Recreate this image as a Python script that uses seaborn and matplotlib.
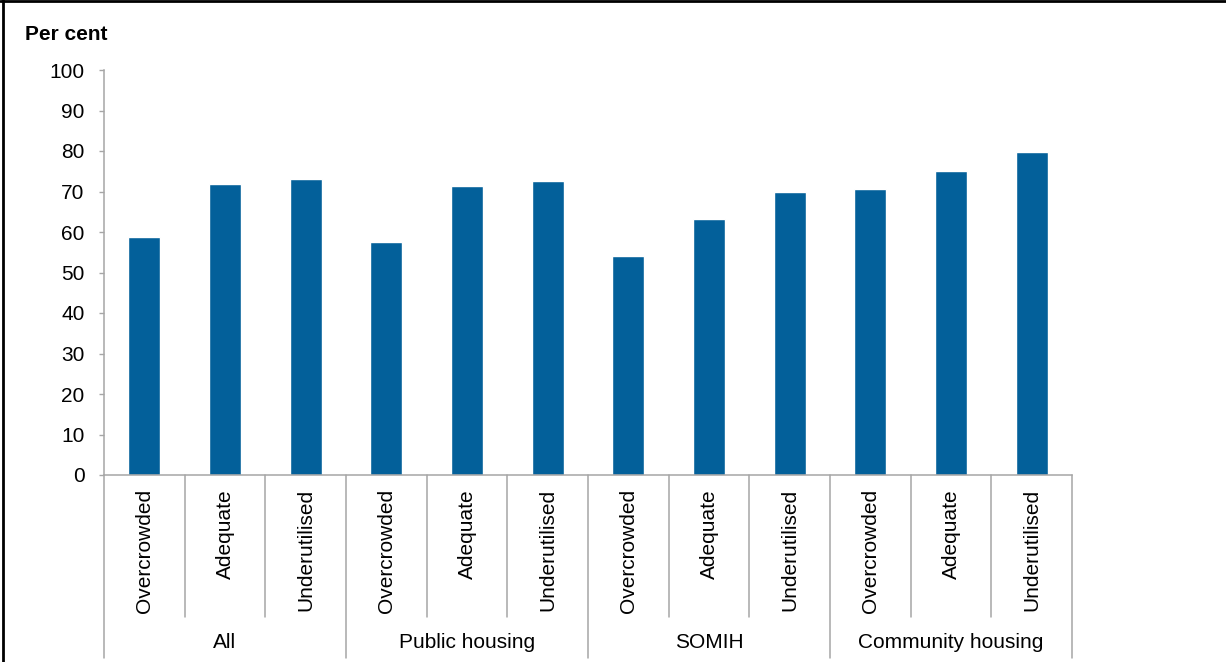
import matplotlib
matplotlib.use("Agg")
import matplotlib.pyplot as plt
import seaborn as sns
import pandas as pd
from matplotlib.lines import Line2D
from matplotlib.transforms import blended_transform_factory

# Share of households (per cent) by dwelling utilisation and housing program
groups = ["All", "Public housing", "SOMIH", "Community housing"]
categories = ["Overcrowded", "Adequate", "Underutilised"]
all_values = [58.8, 71.8, 73.2]
public_values = [57.6, 71.4, 72.6]
somih_values = [54.1, 63.3, 69.9]
community_values = [70.7, 75.1, 79.8]
y_ticks = list(range(0, 101, 10))
y_label = "Per cent"

series = [all_values, public_values, somih_values, community_values]
rows = []
for g, vals in zip(groups, series):
    for c, v in zip(categories, vals):
        rows.append({"key": f"{g}|{c}", "group": g, "category": c, "value": v})
df = pd.DataFrame(rows)
order = list(df["key"])

sns.set_theme(style="white")
plt.rcParams["font.family"] = ["Liberation Sans", "DejaVu Sans"]

W, H = 1226, 662
fig = plt.figure(figsize=(W / 100, H / 100), dpi=100)
fig.patch.set_facecolor("white")


def fy(py):
    return 1 - py / H


ax = fig.add_axes([104 / W, fy(475), (1072 - 104) / W, (475 - 70) / H])
bar_color = "#03609A"
sns.barplot(data=df, x="key", y="value", order=order, color=bar_color,
            saturation=1, width=0.4, ax=ax)

axis_gray = "#A6A6A6"
ax.set_xlim(-0.5, len(order) - 0.5)
ax.set_ylim(0, 100)
ax.set_yticks(y_ticks)
ax.set_xlabel("")
ax.set_ylabel("")
ax.tick_params(axis="x", length=0, labelbottom=False)
ax.tick_params(axis="y", length=3.6, width=1.0, color=axis_gray, pad=10.5,
               labelsize=15, labelcolor="black", left=True)
for side in ["top", "right"]:
    ax.spines[side].set_visible(False)
for side in ["left", "bottom"]:
    ax.spines[side].set_color(axis_gray)
    ax.spines[side].set_linewidth(1.1)
ax.grid(False)

# Two-level category axis: separators and labels below the plot
trans = blended_transform_factory(ax.transData, fig.transFigure)
n = len(order)
for i in range(n + 1):
    x = i - 0.5
    bottom = fy(658) if i % 3 == 0 else fy(617)
    ax.add_line(Line2D([x, x], [fy(475), bottom], transform=trans,
                       color=axis_gray, lw=1.1, clip_on=False))

for i, row in df.iterrows():
    ax.text(i, fy(489), row["category"], rotation=90, ha="center", va="top",
            transform=trans, fontsize=15, color="black")

for gi, g in enumerate(groups):
    ax.text(gi * 3 + 1, fy(648), g, ha="center", va="baseline",
            transform=trans, fontsize=15, color="black")

fig.text(25 / W, fy(40), y_label, fontweight="bold", fontsize=15,
         ha="left", va="baseline", color="black")

# Frame lines along the top and left edges
fig.add_artist(Line2D([2.5 / W, 2.5 / W], [0, 1], transform=fig.transFigure,
                      color="black", lw=2.0))
fig.add_artist(Line2D([0, 1], [fy(1), fy(1)], transform=fig.transFigure,
                      color="black", lw=2.0))

fig.savefig("out.png", dpi=100)
